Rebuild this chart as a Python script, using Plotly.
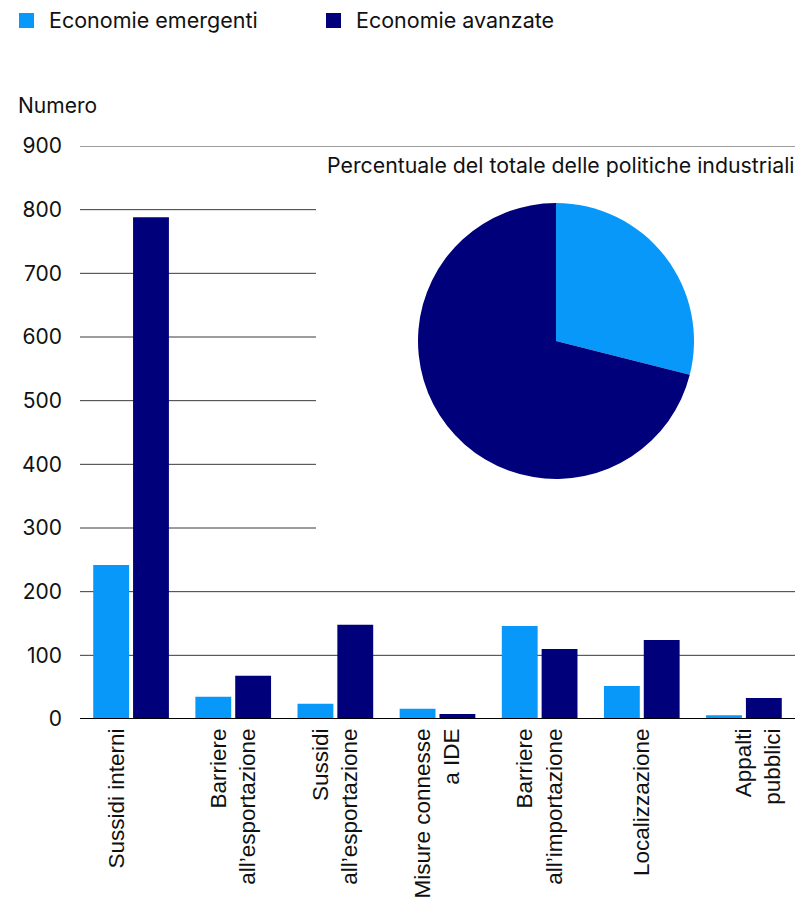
import plotly.graph_objects as go

# Category labels; the padding lines keep the original label placement
categories = [
    "Sussidi interni<br> ",
    "Barriere<br>all’esportazione",
    "Sussidi<br>all’esportazione",
    "Misure connesse<br>a IDE",
    "Barriere<br>all’importazione",
    "Localizzazione",
    " <br>Appalti<br>pubblici",
]
emergenti = [242, 35, 24, 16, 146, 52, 6]
avanzate = [788, 68, 148, 8, 110, 124, 33]
y_ticks = [0, 100, 200, 300, 400, 500, 600, 700, 800, 900]
series_names = ["Economie emergenti", "Economie avanzate"]

LIGHT = "#0898fa"
DARK = "#00007a"
FONT = "Inter"
TXT = "#111111"
GRID = "#3a3a3a"

# plot-area geometry in pixels
L, R, T, B = 80, 3, 146, 180
W, H = 798, 899
PW, PH = W - L - R, H - T - B


def px_x(x):
    return (x - L) / PW


def px_y(y):
    return (H - B - y) / PH


fig = go.Figure()
fig.add_trace(go.Bar(x=categories, y=emergenti, name=series_names[0],
                     marker=dict(color=LIGHT, line=dict(width=0)),
                     showlegend=False))
fig.add_trace(go.Bar(x=categories, y=avanzate, name=series_names[1],
                     marker=dict(color=DARK, line=dict(width=0)),
                     showlegend=False))

# inset pie: share of all industrial policies
fig.add_trace(go.Pie(
    labels=series_names,
    values=[sum(emergenti), sum(avanzate)],
    marker=dict(colors=[LIGHT, DARK], line=dict(width=0)),
    sort=False, direction="clockwise", rotation=0,
    textinfo="none", hoverinfo="label+percent", showlegend=False,
    domain=dict(x=[px_x(418), px_x(694)], y=[px_y(479), px_y(203)]),
))

shapes = []
# horizontal gridlines; the middle ones stop short of the pie panel
for v in y_ticks:
    if v == 0:
        continue
    x_end = 1.0 if (v <= 200 or v >= 900) else px_x(316)
    shapes.append(dict(type="line", xref="paper", yref="y", x0=0, x1=x_end,
                       y0=v, y1=v, line=dict(color=GRID, width=1),
                       layer="below"))
# baseline
shapes.append(dict(type="line", xref="paper", yref="y", x0=0, x1=1,
                   y0=0, y1=0, line=dict(color="#000000", width=2),
                   layer="above"))

# legend swatches and labels
annotations = []
for name, color, sx in zip(series_names, [LIGHT, DARK], [19, 326]):
    shapes.append(dict(type="rect", xref="paper", yref="paper",
                       x0=px_x(sx), x1=px_x(sx + 15),
                       y0=px_y(28), y1=px_y(13),
                       fillcolor=color, line=dict(width=0)))
    annotations.append(dict(text=name, xref="paper", yref="paper",
                            x=px_x(sx + 28), y=px_y(20.5),
                            xanchor="left", yanchor="middle", showarrow=False,
                            font=dict(family=FONT, size=21.5, color=TXT)))

annotations += [
    dict(text="Numero", xref="paper", yref="paper",
         x=px_x(16), y=px_y(105), xanchor="left", yanchor="middle",
         showarrow=False, font=dict(family=FONT, size=21, color=TXT)),
    dict(text="Percentuale del totale delle politiche industriali",
         xref="paper", yref="paper", x=px_x(797), y=px_y(165),
         xanchor="right", yanchor="middle", showarrow=False,
         font=dict(family=FONT, size=21.3, color=TXT)),
]

fig.update_layout(
    width=W, height=H,
    margin=dict(l=L, r=R, t=T, b=B, autoexpand=False),
    paper_bgcolor="white", plot_bgcolor="white",
    barmode="group", bargap=0.22, bargroupgap=0.1,
    font=dict(family=FONT, size=21, color=TXT),
    showlegend=False,
    shapes=shapes,
    annotations=annotations,
)

fig.update_yaxes(range=[0, 900], tickvals=y_ticks, showgrid=False,
                 zeroline=False, showline=False, ticks="",
                 ticklabelstandoff=17, automargin=False,
                 tickfont=dict(family=FONT, size=21, color=TXT),
                 fixedrange=True)
fig.update_xaxes(tickangle=-90, showline=False, ticks="", showgrid=False,
                 ticklabelstandoff=4, automargin=False,
                 tickfont=dict(family="Liberation Sans", size=22.5, color=TXT),
                 fixedrange=True)

fig.write_html("out.html")
